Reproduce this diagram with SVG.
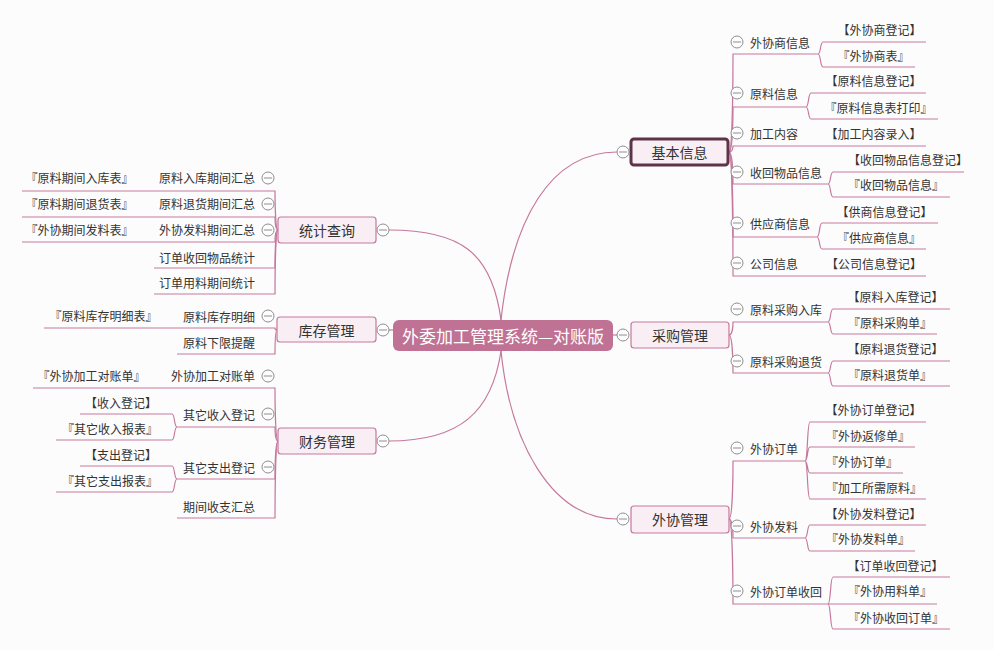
<svg xmlns="http://www.w3.org/2000/svg" xmlns:xlink="http://www.w3.org/1999/xlink" width="994" height="650" viewBox="0 0 994 650">
<style>
.ln{fill:none;stroke:#c5789d;stroke-width:1.2}
.t{font-family:"Noto Sans CJK SC","Noto Sans",sans-serif;font-size:12px;fill:#333;dominant-baseline:central}
.m{text-anchor:middle}
.e{text-anchor:end}
.t1{font-size:14px;text-anchor:middle}
.nd{fill:#f8eef3;stroke:#c5789d;stroke-width:1.2}
.ndk{fill:#f8eef3;stroke:#5e3249;stroke-width:3}
.root{fill:#bf7293}
.rt{font-family:"Noto Sans CJK SC","Noto Sans",sans-serif;font-size:17px;fill:#fff;text-anchor:middle;dominant-baseline:central}
</style>
<defs>
<g id="col"><circle r="6" fill="#fdfdfd" stroke="#8f8f8f" stroke-width="1"/><line x1="-4" y1="0" x2="4" y2="0" stroke="#8f8f8f" stroke-width="1"/></g>
</defs>
<rect width="994" height="650" fill="#fcfcfc"/>

<g id="connectors">
<!-- root to level 1 -->
<path class="ln" d="M501,320 C512,220 550,152 617,152"/>
<path class="ln" d="M613,335 L617,335"/>
<path class="ln" d="M501,351 C510,440 550,519 617,519"/>
<path class="ln" d="M501,320 C492,252 460,230 389,230"/>
<path class="ln" d="M393,330 L389,330"/>
<path class="ln" d="M501,351 C492,412 460,441 389,441"/>
<!-- 基本信息 -->
<path class="ln" d="M729,152 C733,152 733,54 733,54 L818,54"/>
<path class="ln" d="M818,54 C821,54 820,42 823,42 L926,42 M818,54 C821,54 820,67 823,67 L915,67"/>
<path class="ln" d="M729,152 C733,152 733,107 733,107 L806,107"/>
<path class="ln" d="M806,107 C809,107 808,93 811,93 L926,93 M806,107 C809,107 808,119 811,119 L938,119"/>
<path class="ln" d="M729,152 C733,152 733,146 733,146 L926,146"/>
<path class="ln" d="M729,152 C733,152 733,184 733,184 L828,184"/>
<path class="ln" d="M828,184 C831,184 830,172 833,172 L964,172 M828,184 C831,184 830,197 833,197 L950,197"/>
<path class="ln" d="M729,152 C733,152 733,237 733,237 L817,237"/>
<path class="ln" d="M817,237 C820,237 819,223 822,223 L938,223 M817,237 C820,237 819,249 822,249 L926,249"/>
<path class="ln" d="M729,152 C733,152 733,276 733,276 L926,276"/>
<!-- 采购管理 -->
<path class="ln" d="M729,335 C733,335 733,322 733,322 L828,322"/>
<path class="ln" d="M828,322 C831,322 830,309 833,309 L950,309 M828,322 C831,322 830,334 833,334 L937,334"/>
<path class="ln" d="M729,335 C733,335 733,373 733,373 L828,373"/>
<path class="ln" d="M828,373 C831,373 830,361 833,361 L950,361 M828,373 C831,373 830,386 833,386 L950,386"/>
<!-- 外协管理 -->
<path class="ln" d="M729,519 C733,519 733,461 733,461 L805,461"/>
<path class="ln" d="M805,461 C808,461 807,422 810,422 L926,422 M805,461 C808,461 807,447 810,447 L915,447 M805,461 C808,461 807,473 810,473 L903,473 M805,461 C808,461 807,499 810,499 L926,499"/>
<path class="ln" d="M729,519 C733,519 733,538 733,538 L805,538"/>
<path class="ln" d="M805,538 C808,538 807,525 810,525 L926,525 M805,538 C808,538 807,551 810,551 L915,551"/>
<path class="ln" d="M729,519 C733,519 733,604 733,604 L937,604"/>
<path class="ln" d="M828,604 C831,604 830,577 833,577 L950,577 M828,604 C831,604 830,629 833,629 L950,629"/>
<!-- 统计查询 -->
<path class="ln" d="M278,230 C275,230 275,191 275,191 L22,191"/>
<path class="ln" d="M278,230 C275,230 275,217 275,217 L22,217"/>
<path class="ln" d="M278,230 C275,230 275,242 275,242 L22,242"/>
<path class="ln" d="M278,230 C275,230 275,268 275,268 L154,268"/>
<path class="ln" d="M278,230 C275,230 275,294 275,294 L154,294"/>
<!-- 库存管理 -->
<path class="ln" d="M277,330 C275,330 275,328 275,328 L44,328"/>
<path class="ln" d="M277,330 C275,330 275,354 275,354 L177,354"/>
<!-- 财务管理 -->
<path class="ln" d="M278,441 C275,441 275,388 275,388 L33,388"/>
<path class="ln" d="M278,441 C275,441 275,427 275,427 L177,427"/>
<path class="ln" d="M177,427 C174,427 175,414 172,414 L80,414 M177,427 C174,427 175,440 172,440 L56,440"/>
<path class="ln" d="M278,441 C275,441 275,479 275,479 L177,479"/>
<path class="ln" d="M177,479 C174,479 175,466 172,466 L80,466 M177,479 C174,479 175,492 172,492 L56,492"/>
<path class="ln" d="M278,441 C275,441 275,518 275,518 L177,518"/>
</g>

<g id="root"><rect class="root" x="393" y="320" width="220" height="31" rx="6"/><text class="rt" x="503" y="335.5">外委加工管理系统—对账版</text></g>

<g id="n-jbxx"><rect class="ndk" x="631" y="139" width="97" height="26" rx="3"/><text class="t t1" x="679.5" y="152">基本信息</text><use xlink:href="#col" x="623" y="152"/></g>
<g id="n-cggl"><rect class="nd" x="631" y="322" width="98" height="26" rx="3"/><text class="t t1" x="680" y="335">采购管理</text><use xlink:href="#col" x="623" y="335"/></g>
<g id="n-wxgl"><rect class="nd" x="631" y="506" width="98" height="27" rx="3"/><text class="t t1" x="680" y="519">外协管理</text><use xlink:href="#col" x="623" y="519"/></g>
<g id="n-tjcx"><rect class="nd" x="278" y="217" width="98" height="26" rx="3"/><text class="t t1" x="327" y="230">统计查询</text><use xlink:href="#col" x="383" y="230"/></g>
<g id="n-kcgl"><rect class="nd" x="277" y="317" width="99" height="25" rx="3"/><text class="t t1" x="326.5" y="329.5">库存管理</text><use xlink:href="#col" x="383" y="330"/></g>
<g id="n-cwgl"><rect class="nd" x="278" y="428" width="98" height="26" rx="3"/><text class="t t1" x="327" y="441">财务管理</text><use xlink:href="#col" x="383" y="441"/></g>

<!-- 基本信息 children -->
<g id="n-wxsxx"><use xlink:href="#col" x="737" y="42"/><text class="t" x="750" y="42">外协商信息</text></g>
<g id="l-wxsdj"><text class="t m" x="879.5" y="29">【外协商登记】</text></g>
<g id="l-wxsb"><text class="t m" x="873.5" y="55">『外协商表』</text></g>
<g id="n-ylxx"><use xlink:href="#col" x="737" y="93"/><text class="t" x="750" y="93">原料信息</text></g>
<g id="l-ylxxdj"><text class="t m" x="873.5" y="80">【原料信息登记】</text></g>
<g id="l-ylxxbdy"><text class="t m" x="878.5" y="107">『原料信息表打印』</text></g>
<g id="n-jgnr"><use xlink:href="#col" x="737" y="133"/><text class="t" x="750" y="133">加工内容</text></g>
<g id="l-jgnrlr"><text class="t m" x="873.5" y="133">【加工内容录入】</text></g>
<g id="n-shwpxx"><use xlink:href="#col" x="737" y="172"/><text class="t" x="750" y="172">收回物品信息</text></g>
<g id="l-shwpxxdj"><text class="t m" x="908" y="159">【收回物品信息登记】</text></g>
<g id="l-shwpxx"><text class="t m" x="896" y="184">『收回物品信息』</text></g>
<g id="n-gysxx"><use xlink:href="#col" x="737" y="223"/><text class="t" x="750" y="223">供应商信息</text></g>
<g id="l-gsxxdj"><text class="t m" x="884.5" y="211">【供商信息登记】</text></g>
<g id="l-gysxx"><text class="t m" x="879" y="237">『供应商信息』</text></g>
<g id="n-gsxx"><use xlink:href="#col" x="737" y="263"/><text class="t" x="750" y="263">公司信息</text></g>
<g id="l-gsxxdj2"><text class="t m" x="874" y="263">【公司信息登记】</text></g>

<!-- 采购管理 children -->
<g id="n-ylcgrk"><use xlink:href="#col" x="737" y="309"/><text class="t" x="750" y="309">原料采购入库</text></g>
<g id="l-ylrkdj"><text class="t m" x="895.5" y="296">【原料入库登记】</text></g>
<g id="l-ylcgd"><text class="t m" x="890" y="322">『原料采购单』</text></g>
<g id="n-ylcgth"><use xlink:href="#col" x="737" y="361"/><text class="t" x="750" y="361">原料采购退货</text></g>
<g id="l-ylthdj"><text class="t m" x="895.5" y="348">【原料退货登记】</text></g>
<g id="l-ylthd"><text class="t m" x="890" y="374">『原料退货单』</text></g>

<!-- 外协管理 children -->
<g id="n-wxdd"><use xlink:href="#col" x="737" y="448"/><text class="t" x="750" y="448">外协订单</text></g>
<g id="l-wxdddj"><text class="t m" x="873.5" y="409">【外协订单登记】</text></g>
<g id="l-wxfxd"><text class="t m" x="868" y="435">『外协返修单』</text></g>
<g id="l-wxdd"><text class="t m" x="862" y="461">『外协订单』</text></g>
<g id="l-jgsxyl"><text class="t m" x="874" y="487">『加工所需原料』</text></g>
<g id="n-wxfl"><use xlink:href="#col" x="737" y="526"/><text class="t" x="750" y="526">外协发料</text></g>
<g id="l-wxfldj"><text class="t m" x="873.5" y="513">【外协发料登记】</text></g>
<g id="l-wxfld"><text class="t m" x="868" y="538">『外协发料单』</text></g>
<g id="n-wxddsh"><use xlink:href="#col" x="737" y="591"/><text class="t" x="750" y="591">外协订单收回</text></g>
<g id="l-ddshdj"><text class="t m" x="895.5" y="565">【订单收回登记】</text></g>
<g id="l-wxyld"><text class="t m" x="890" y="590">『外协用料单』</text></g>
<g id="l-wxshdd"><text class="t m" x="896" y="617">『外协收回订单』</text></g>

<!-- 统计查询 children -->
<g id="n-ylrkqjhz"><use xlink:href="#col" x="268" y="178"/><text class="t e" x="255" y="177">原料入库期间汇总</text></g>
<g id="l-ylqjrkb"><text class="t m" x="79.5" y="177">『原料期间入库表』</text></g>
<g id="n-ylthqjhz"><use xlink:href="#col" x="268" y="204"/><text class="t e" x="255" y="203">原料退货期间汇总</text></g>
<g id="l-ylqjthb"><text class="t m" x="79.5" y="203">『原料期间退货表』</text></g>
<g id="n-wxflqjhz"><use xlink:href="#col" x="268" y="230"/><text class="t e" x="255" y="229">外协发料期间汇总</text></g>
<g id="l-wxqjflb"><text class="t m" x="79.5" y="229">『外协期间发料表』</text></g>
<g id="n-ddshwptj"><text class="t e" x="255" y="257">订单收回物品统计</text></g>
<g id="n-ddylqjtj"><text class="t e" x="255" y="282">订单用料期间统计</text></g>

<!-- 库存管理 children -->
<g id="n-ylkcmx"><use xlink:href="#col" x="268" y="316"/><text class="t e" x="255" y="316">原料库存明细</text></g>
<g id="l-ylkcmxb"><text class="t m" x="103.5" y="315">『原料库存明细表』</text></g>
<g id="n-ylxxtx"><text class="t e" x="255" y="342">原料下限提醒</text></g>

<!-- 财务管理 children -->
<g id="n-wxjgdzd"><use xlink:href="#col" x="268" y="376"/><text class="t e" x="255" y="375">外协加工对账单</text></g>
<g id="l-wxjgdzd"><text class="t m" x="91.5" y="375">『外协加工对账单』</text></g>
<g id="n-qtsrdj"><use xlink:href="#col" x="268" y="414"/><text class="t e" x="255" y="414">其它收入登记</text></g>
<g id="l-srdj"><text class="t m" x="121" y="402">【收入登记】</text></g>
<g id="l-qtsrbb"><text class="t m" x="110" y="428">『其它收入报表』</text></g>
<g id="n-qtzcdj"><use xlink:href="#col" x="268" y="467"/><text class="t e" x="255" y="467">其它支出登记</text></g>
<g id="l-zcdj"><text class="t m" x="121" y="454">【支出登记】</text></g>
<g id="l-qtzcbb"><text class="t m" x="110" y="480">『其它支出报表』</text></g>
<g id="n-qjszhz"><text class="t e" x="255" y="506">期间收支汇总</text></g>
</svg>
